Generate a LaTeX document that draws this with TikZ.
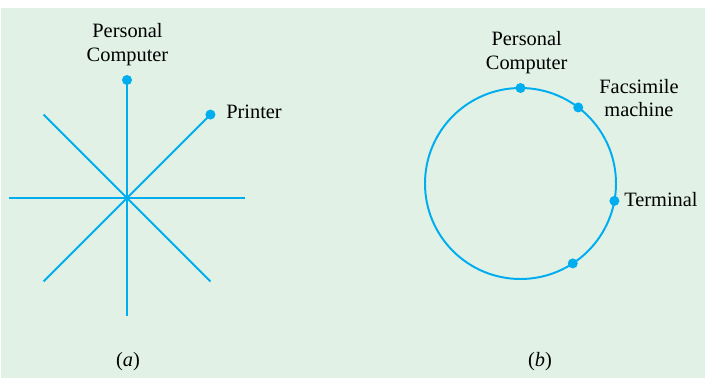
\documentclass[tikz,border=0pt]{standalone}
\usepackage{fontspec}
\setmainfont{Liberation Serif}
\usepackage{tikz}
\usetikzlibrary{positioning,calc}
\definecolor{wire}{HTML}{00AEEF}
\definecolor{paper}{HTML}{E1F1E6}

\begin{document}
\begin{tikzpicture}[
  x=0.025cm, y=0.025cm,
  link/.style={draw=wire, line width=1.4pt},
  station/.style={circle, fill=wire, inner sep=0pt, minimum size=0.25cm},
  tag/.style={font=\fontsize{14.5}{17}\selectfont, inner sep=0pt, align=center},
]
  % background
  \useasboundingbox (0,0) rectangle (706,378);
  \fill[paper] (1,0) rectangle (705,370);

  % (a) star
  \coordinate (hub) at (127,180);
  \foreach \ang in {0,45,...,315}
    \draw[link] (hub) -- ++(\ang:118);
  \node[station] (pca) at ($(hub)+(90:118)$) {};
  \node[station] (prn) at ($(hub)+(45:118)$) {};
  \node[tag] (pcalabel) at (127.5,333.5) {Personal\\Computer};
  \node[tag, anchor=west] (prnlabel) at (226,266) {Printer};
  \node[tag] (capa) at (128,16) {(\textit{a})};

  % (b) ring
  \coordinate (ctr) at (520.5,194.5);
  \draw[link] (ctr) circle (95.5);
  \node[station] (pcb) at ($(ctr)+(90:95.5)$) {};
  \node[station] (fax) at ($(ctr)+(52.8:95.5)$) {};
  \node[station] (term) at ($(ctr)+(-10.5:95.5)$) {};
  \node[station] (spare) at ($(ctr)+(-56.8:95.5)$) {};
  \node[tag] (pcblabel) at (526.7,325) {Personal\\Computer};
  \node[tag] (faxlabel) at (639,280) {Facsimile\\machine};
  \node[tag, anchor=west] (termlabel) at (624,178) {Terminal};
  \node[tag] (capb) at (540,16) {(\textit{b})};
\end{tikzpicture}
\end{document}
